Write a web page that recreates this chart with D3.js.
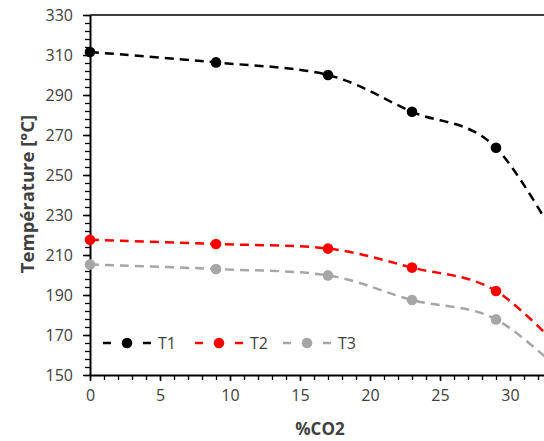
<!DOCTYPE html>
<html><head><meta charset="utf-8">
<script src="https://cdn.jsdelivr.net/npm/d3@7"></script>
<style>
html,body{margin:0;padding:0;background:#fff;overflow:hidden;}
text{font-family:"Open Sans",sans-serif;fill:#404040;}
</style></head>
<body>
<svg id="c" width="544" height="441"></svg>
<script>
const co2 = [0, 9, 17, 23, 29, 35];
const T1 = [311.5, 306.3, 300, 281.6, 263.6, 197];
const T2 = [217.6, 215.5, 213.2, 203.7, 192, 153];
const T3 = [205.3, 203, 199.8, 187.5, 177.8, 143];
const seriesNames = ["T1", "T2", "T3"];
const seriesColors = ["#000000", "#ff0000", "#a6a6a6"];
const yTicks = [150, 170, 190, 210, 230, 250, 270, 290, 310, 330];
const xTicks = [0, 5, 10, 15, 20, 25, 30];

const series = [T1, T2, T3];
const svg = d3.select("#c");
const x = d3.scaleLinear().domain([0, 35]).range([90, 580]);
const y = d3.scaleLinear().domain([150, 330]).range([375, 15]);

svg.append("defs").append("clipPath").attr("id","pa")
  .append("rect").attr("x",x(0)).attr("y",y(330)).attr("width",x(35)-x(0)).attr("height",y(150)-y(330));

// top border
svg.append("line").attr("x1",x(0)).attr("x2",x(35)).attr("y1",y(330)).attr("y2",y(330))
  .attr("stroke","#000").attr("stroke-width",1.5);

// y minor ticks
const yMinor = d3.range(150, 331, 4);
svg.append("g").attr("transform",`translate(${x(0)},0)`)
  .call(d3.axisLeft(y).tickValues(yMinor).tickSize(5).tickFormat(""))
  .call(g=>{g.select(".domain").remove(); g.selectAll("line").attr("stroke","#000").attr("stroke-width",1.3);});
const gy = svg.append("g").attr("transform",`translate(${x(0)},0)`)
  .call(d3.axisLeft(y).tickValues(yTicks).tickSize(7).tickSizeOuter(0).tickPadding(10).tickFormat(d3.format("d")));
gy.select(".domain").attr("stroke","#000").attr("stroke-width",2);
gy.selectAll("line").attr("stroke","#000").attr("stroke-width",1.5);
gy.selectAll("text").attr("font-size",16).attr("fill","#404040").style("font-family","Open Sans");

// x minor ticks
svg.append("g").attr("transform",`translate(0,${y(150)})`)
  .call(d3.axisBottom(x).tickValues(d3.range(0, 36, 1)).tickSize(5).tickFormat(""))
  .call(g=>{g.select(".domain").remove(); g.selectAll("line").attr("stroke","#000").attr("stroke-width",1.3);});
const gx = svg.append("g").attr("transform",`translate(0,${y(150)})`)
  .call(d3.axisBottom(x).tickValues(xTicks).tickSize(6).tickSizeOuter(0).tickPadding(9).tickFormat(d3.format("d")));
gx.select(".domain").attr("stroke","#000").attr("stroke-width",2);
gx.selectAll("line").attr("stroke","#000").attr("stroke-width",1.5);
gx.selectAll("text").attr("font-size",16).attr("fill","#404040").style("font-family","Open Sans");

// series
const line = d3.line().x((d,i)=>x(co2[i])).y(d=>y(d)).curve(d3.curveCardinal.tension(0));
const plot = svg.append("g").attr("clip-path","url(#pa)");
series.forEach((s,k)=>{
  plot.append("path").attr("d", line(s)).attr("fill","none")
    .attr("stroke", seriesColors[k]).attr("stroke-width",2.5).attr("stroke-dasharray","9,6");
});
const markers = svg.append("g");
series.forEach((s,k)=>{
  markers.selectAll(null).data(s.slice(0,5)).enter().append("circle")
    .attr("cx",(d,i)=>x(co2[i])).attr("cy",d=>y(d)).attr("r",5.3).attr("fill",seriesColors[k]);
});

// legend
const legX = [103, 195, 283];
const legY = 343;
seriesNames.forEach((n,k)=>{
  const g = svg.append("g").attr("transform",`translate(${legX[k]},${legY})`);
  g.append("line").attr("x1",0).attr("x2",8).attr("y1",0).attr("y2",0).attr("stroke",seriesColors[k]).attr("stroke-width",2.5);
  g.append("line").attr("x1",40).attr("x2",48).attr("y1",0).attr("y2",0).attr("stroke",seriesColors[k]).attr("stroke-width",2.5);
  g.append("circle").attr("cx",24).attr("cy",0).attr("r",5.3).attr("fill",seriesColors[k]);
  g.append("text").attr("x",55).attr("y",6).attr("font-size",16).text(n);
});

// axis titles
svg.append("text").attr("x",320).attr("y",435).attr("text-anchor","middle")
  .attr("font-size",17).attr("font-weight","bold").attr("fill","#262626").text("%CO2");
svg.append("text").attr("transform","translate(34,194) rotate(-90)").attr("text-anchor","middle")
  .attr("font-size",18.5).attr("font-weight","bold").attr("fill","#262626").text("Température [°C]");
</script>
</body></html>
